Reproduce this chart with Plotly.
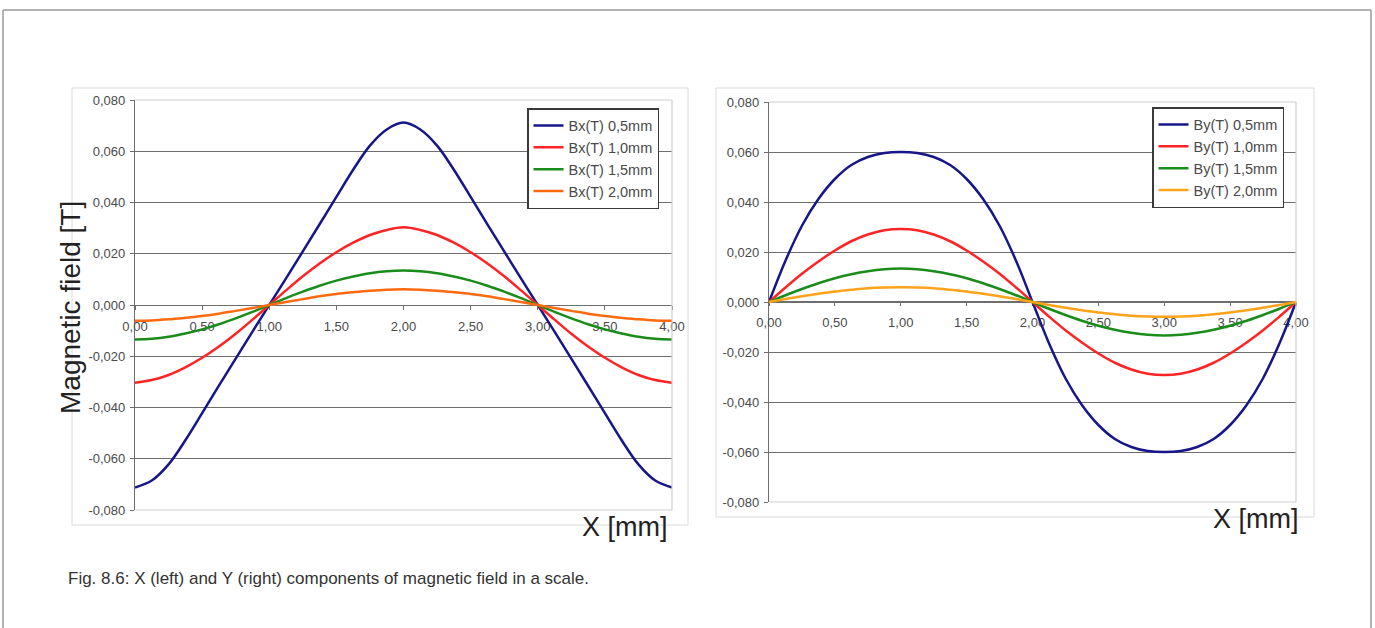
import plotly.graph_objects as go

# Position along the scale [mm]
x_mm = [0.0, 0.125, 0.25, 0.375, 0.5, 0.625, 0.75, 0.875,
        1.0, 1.125, 1.25, 1.375, 1.5, 1.625, 1.75, 1.875,
        2.0, 2.125, 2.25, 2.375, 2.5, 2.625, 2.75, 2.875,
        3.0, 3.125, 3.25, 3.375, 3.5, 3.625, 3.75, 3.875, 4.0]

# X component of the field [T] at four sensor distances
bx_05 = [-0.0712, -0.0685, -0.0622, -0.0528, -0.0422, -0.0315, -0.0209, -0.0104,
         0.0, 0.0104, 0.0209, 0.0315, 0.0422, 0.0528, 0.0622, 0.0685,
         0.0712, 0.0685, 0.0622, 0.0528, 0.0422, 0.0315, 0.0209, 0.0104,
         0.0, -0.0104, -0.0209, -0.0315, -0.0422, -0.0528, -0.0622, -0.0685, -0.0712]
bx_10 = [-0.0303, -0.0293, -0.0273, -0.0243, -0.0206, -0.0162, -0.0112, -0.0057,
         0.0, 0.0057, 0.0112, 0.0162, 0.0206, 0.0243, 0.0273, 0.0293,
         0.0303, 0.0293, 0.0273, 0.0243, 0.0206, 0.0162, 0.0112, 0.0057,
         0.0, -0.0057, -0.0112, -0.0162, -0.0206, -0.0243, -0.0273, -0.0293, -0.0303]
bx_15 = [-0.0135, -0.0132, -0.0124, -0.0111, -0.0095, -0.0075, -0.0052, -0.0027,
         0.0, 0.0027, 0.0052, 0.0075, 0.0095, 0.0111, 0.0124, 0.0132,
         0.0135, 0.0132, 0.0124, 0.0111, 0.0095, 0.0075, 0.0052, 0.0027,
         0.0, -0.0027, -0.0052, -0.0075, -0.0095, -0.0111, -0.0124, -0.0132, -0.0135]
bx_20 = [-0.0061, -0.0060, -0.0056, -0.0050, -0.0043, -0.0034, -0.0023, -0.0012,
         0.0, 0.0012, 0.0023, 0.0034, 0.0043, 0.0050, 0.0056, 0.0060,
         0.0061, 0.0060, 0.0056, 0.0050, 0.0043, 0.0034, 0.0023, 0.0012,
         0.0, -0.0012, -0.0023, -0.0034, -0.0043, -0.0050, -0.0056, -0.0060, -0.0061]

# Y component of the field [T] at four sensor distances
by_05 = [0.0, 0.0165, 0.0305, 0.0412, 0.0492, 0.0548, 0.0580, 0.0596,
         0.0600, 0.0596, 0.0580, 0.0548, 0.0492, 0.0412, 0.0305, 0.0165,
         0.0, -0.0165, -0.0305, -0.0412, -0.0492, -0.0548, -0.0580, -0.0596,
         -0.0600, -0.0596, -0.0580, -0.0548, -0.0492, -0.0412, -0.0305, -0.0165, 0.0]
by_10 = [0.0, 0.0058, 0.0113, 0.0162, 0.0206, 0.0243, 0.0270, 0.0287,
         0.0292, 0.0287, 0.0270, 0.0243, 0.0206, 0.0162, 0.0113, 0.0058,
         0.0, -0.0058, -0.0113, -0.0162, -0.0206, -0.0243, -0.0270, -0.0287,
         -0.0292, -0.0287, -0.0270, -0.0243, -0.0206, -0.0162, -0.0113, -0.0058, 0.0]
by_15 = [0.0, 0.0027, 0.0052, 0.0075, 0.0095, 0.0111, 0.0123, 0.0131,
         0.0134, 0.0131, 0.0123, 0.0111, 0.0095, 0.0075, 0.0052, 0.0027,
         0.0, -0.0027, -0.0052, -0.0075, -0.0095, -0.0111, -0.0123, -0.0131,
         -0.0134, -0.0131, -0.0123, -0.0111, -0.0095, -0.0075, -0.0052, -0.0027, 0.0]
by_20 = [0.0, 0.0012, 0.0023, 0.0033, 0.0042, 0.0049, 0.0055, 0.0058,
         0.0059, 0.0058, 0.0055, 0.0049, 0.0042, 0.0033, 0.0023, 0.0012,
         0.0, -0.0012, -0.0023, -0.0033, -0.0042, -0.0049, -0.0055, -0.0058,
         -0.0059, -0.0058, -0.0055, -0.0049, -0.0042, -0.0033, -0.0023, -0.0012, 0.0]

bx_names = ["Bx(T) 0,5mm", "Bx(T) 1,0mm", "Bx(T) 1,5mm", "Bx(T) 2,0mm"]
by_names = ["By(T) 0,5mm", "By(T) 1,0mm", "By(T) 1,5mm", "By(T) 2,0mm"]

x_tick_vals = [0.0, 0.5, 1.0, 1.5, 2.0, 2.5, 3.0, 3.5, 4.0]
x_tick_text = ["0,00", "0,50", "1,00", "1,50", "2,00", "2,50", "3,00", "3,50", "4,00"]
y_tick_vals = [-0.08, -0.06, -0.04, -0.02, 0.0, 0.02, 0.04, 0.06, 0.08]
y_tick_text = ["-0,080", "-0,060", "-0,040", "-0,020", "0,000", "0,020", "0,040", "0,060", "0,080"]

bx_colors = ["#16168a", "#ff2424", "#1a8c1a", "#ff6a10"]
by_colors = ["#16168a", "#ff2424", "#1a8c1a", "#ffa31a"]

W, H = 1375, 628


def px(v):
    return v / W


def py(v):
    return 1 - v / H


fig = go.Figure()

for i, (vals, name) in enumerate(zip([bx_05, bx_10, bx_15, bx_20], bx_names)):
    fig.add_trace(go.Scatter(
        x=x_mm, y=vals, name=name, mode="lines", line_shape="spline",
        line=dict(color=bx_colors[i], width=2.5),
        xaxis="x", yaxis="y", legend="legend", legendgroup="bx%d" % i))

for i, (vals, name) in enumerate(zip([by_05, by_10, by_15, by_20], by_names)):
    fig.add_trace(go.Scatter(
        x=x_mm, y=vals, name=name, mode="lines", line_shape="spline",
        line=dict(color=by_colors[i], width=2.5),
        xaxis="x2", yaxis="y2", legend="legend2", legendgroup="by%d" % i))

tick_font = dict(family="Liberation Sans, Arial, sans-serif", size=13, color="#4a4a4a")
axis_grey = "#6e6e6e"

# plot-area pixel boxes: (left, right, top, bottom, zero-line y)
left_box = (135, 672, 100, 510, 305)
right_box = (769, 1296, 102, 502, 301)


def x_axis(box):
    l, r, t, b, z = box
    return dict(domain=[px(l), px(r)], range=[0, 4], anchor="free", position=py(z),
                tickmode="array", tickvals=x_tick_vals, ticktext=x_tick_text,
                showgrid=False, zeroline=False, showline=True, linecolor=axis_grey, linewidth=1.2,
                ticks="outside", ticklen=4, tickcolor=axis_grey, tickfont=tick_font,
                ticklabelstandoff=5, layer="below traces", fixedrange=True, automargin=False)


def y_axis(box, x_anchor):
    l, r, t, b, z = box
    return dict(domain=[py(b), py(t)], range=[-0.08, 0.08], anchor=x_anchor,
                tickmode="array", tickvals=y_tick_vals, ticktext=y_tick_text,
                showgrid=True, gridcolor=axis_grey, gridwidth=1.2, zeroline=False,
                showline=True, linecolor=axis_grey, linewidth=1.2,
                ticks="outside", ticklen=4, tickcolor=axis_grey, tickfont=tick_font,
                ticklabelstandoff=2, layer="below traces", fixedrange=True, automargin=False)


legend_common = dict(bgcolor="white", bordercolor="#3a3a3a", borderwidth=1.5,
                     font=dict(family="Liberation Sans, Arial, sans-serif", size=14.5, color="#4a4a4a"),
                     xanchor="left", yanchor="top", itemwidth=30, tracegroupgap=0,
                     itemclick=False, itemdoubleclick=False)

shapes = []
# outer frame of the figure panel
frame = dict(color="#9a9a9a", width=1.5)
shapes.append(dict(type="line", xref="paper", yref="paper", x0=px(3), x1=px(1371), y0=py(10), y1=py(10), line=frame))
shapes.append(dict(type="line", xref="paper", yref="paper", x0=px(3), x1=px(3), y0=py(10), y1=0, line=frame))
shapes.append(dict(type="line", xref="paper", yref="paper", x0=px(1371), x1=px(1371), y0=py(10), y1=0, line=frame))
# chart boxes
for (l, t, r, b) in [(72, 88, 688, 525), (716, 88, 1314, 517)]:
    shapes.append(dict(type="rect", xref="paper", yref="paper", x0=px(l), x1=px(r), y0=py(b), y1=py(t),
                       line=dict(color="#dadada", width=1), layer="below"))
# plot-area borders (top, right, bottom) in light grey
for xr, yr in [("x domain", "y domain"), ("x2 domain", "y2 domain")]:
    for seg in [(0, 1, 1, 1), (1, 1, 0, 1), (0, 1, 0, 0)]:
        shapes.append(dict(type="line", xref=xr, yref=yr, x0=seg[0], x1=seg[1], y0=seg[2], y1=seg[3],
                           line=dict(color="#cfcfcf", width=1.2), layer="above"))

title_font = dict(family="Liberation Sans, Arial, sans-serif", size=27, color="#222")
annotations = [
    dict(text="Magnetic field [T]", xref="paper", yref="paper", x=px(70), y=py(308),
         xanchor="center", yanchor="middle", textangle=-90, showarrow=False,
         font=dict(family="Liberation Sans, Arial, sans-serif", size=28, color="#222")),
    dict(text="X [mm]", xref="paper", yref="paper", x=px(670), y=py(527),
         xanchor="right", yanchor="middle", showarrow=False, font=title_font),
    dict(text="X [mm]", xref="paper", yref="paper", x=px(1301), y=py(519),
         xanchor="right", yanchor="middle", showarrow=False, font=title_font),
    dict(text="Fig. 8.6: X (left) and Y (right) components of magnetic field in a scale.",
         xref="paper", yref="paper", x=px(66), y=py(578), xanchor="left", yanchor="middle",
         showarrow=False, font=dict(family="Liberation Sans, Arial, sans-serif", size=17, color="#333")),
]

fig.update_layout(
    width=W, height=H, autosize=False,
    margin=dict(l=0, r=0, t=0, b=0, pad=0, autoexpand=False),
    paper_bgcolor="white", plot_bgcolor="white",
    xaxis=x_axis(left_box), yaxis=y_axis(left_box, "x"),
    xaxis2=x_axis(right_box), yaxis2=y_axis(right_box, "x2"),
    legend=dict(x=px(527), y=py(108), **legend_common),
    legend2=dict(x=px(1152), y=py(107), **legend_common),
    shapes=shapes, annotations=annotations,
)

fig.write_html("out.html")
